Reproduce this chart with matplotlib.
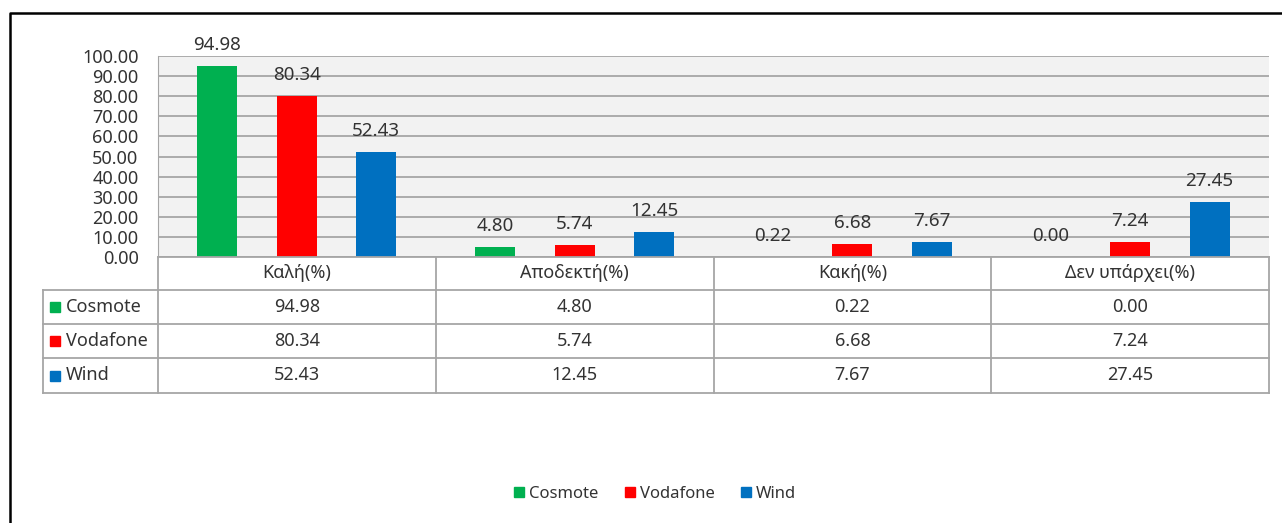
import matplotlib.pyplot as plt
from matplotlib.lines import Line2D
from matplotlib.patches import Patch, Rectangle

plt.rcParams['font.family'] = ['Noto Sans', 'DejaVu Sans']

# data
categories = ["Καλή(%)", "Αποδεκτή(%)", "Κακή(%)", "Δεν υπάρχει(%)"]
series = ["Cosmote", "Vodafone", "Wind"]
cosmote = [94.98, 4.80, 0.22, 0.00]
vodafone = [80.34, 5.74, 6.68, 7.24]
wind = [52.43, 12.45, 7.67, 27.45]
colors = ["#00B050", "#FF0000", "#0070C0"]
yticks = [0, 10, 20, 30, 40, 50, 60, 70, 80, 90, 100]

values = [cosmote, vodafone, wind]
txt = "#333333"
grid = "#a6a6a6"

W, H = 1282, 523
fig = plt.figure(figsize=(W / 100, H / 100), dpi=100)

# plot area in pixels
px_l, px_r, px_t, px_b = 158, 1269, 56, 257
ax = fig.add_axes([px_l / W, 1 - px_b / H, (px_r - px_l) / W, (px_b - px_t) / H])
ax.set_facecolor("#f2f2f2")
ax.set_xlim(-0.5, 3.5)
ax.set_ylim(0, 100)
ax.set_yticks(yticks)
ax.set_yticklabels(["%.2f" % v for v in yticks], fontsize=13, color=txt)
ax.tick_params(axis="y", length=0, pad=14)
ax.set_xticks([])
ax.grid(axis="y", color=grid, linewidth=1.3)
ax.set_axisbelow(True)
for s in ["top", "right", "bottom"]:
    ax.spines[s].set_visible(False)
ax.spines["left"].set_color(grid)

off = 0.286
bw = 0.144
for j, (name, vals) in enumerate(zip(series, values)):
    xs = [i + (j - 1) * off for i in range(len(categories))]
    ax.bar(xs, vals, width=bw, color=colors[j], zorder=3)
    for x, v in zip(xs, vals):
        ax.annotate("%.2f" % v, (x, v), xytext=(0, 11.5), textcoords="offset points",
                    ha="center", va="baseline", fontsize=13.5, color=txt,
                    annotation_clip=False, zorder=4)

# overlay in pixel coords for the data table and frame
ov = fig.add_axes([0, 0, 1, 1], facecolor="none")
ov.set_xlim(0, W)
ov.set_ylim(H, 0)
ov.axis("off")

cw = (px_r - px_l) / len(categories)
col_x = [px_l + k * cw for k in range(len(categories) + 1)]
rows_y = [257, 290, 324, 358, 393]
lab_l = 43

# horizontal lines
ov.plot([px_l, px_r], [rows_y[0], rows_y[0]], color=grid, lw=1.3)
for y in rows_y[1:]:
    ov.plot([lab_l, px_r], [y, y], color=grid, lw=1.3)
# vertical lines
ov.plot([lab_l, lab_l], [rows_y[1], rows_y[-1]], color=grid, lw=1.3)
for x in col_x:
    ov.plot([x, x], [rows_y[0], rows_y[-1]], color=grid, lw=1.3)

for k, c in enumerate(categories):
    ov.text((col_x[k] + col_x[k + 1]) / 2, (rows_y[0] + rows_y[1]) / 2, c,
            ha="center", va="center", fontsize=13, color=txt)
for j, (name, vals) in enumerate(zip(series, values)):
    yc = (rows_y[j + 1] + rows_y[j + 2]) / 2
    ov.add_patch(Rectangle((50, yc - 5), 10, 10, color=colors[j]))
    ov.text(66, yc, name, ha="left", va="center", fontsize=13, color=txt)
    for k, v in enumerate(vals):
        ov.text((col_x[k] + col_x[k + 1]) / 2, yc, "%.2f" % v,
                ha="center", va="center", fontsize=13, color=txt)

# outer frame (left and top edges)
ov.add_line(Line2D([10, 10, W], [H, 13, 13], color="black", lw=1.8))

handles = [Patch(color=c, label=n) for c, n in zip(colors, series)]
fig.legend(handles=handles, loc="center", bbox_to_anchor=(655 / W, 1 - 494 / H),
           ncol=3, frameon=False, fontsize=12, handlelength=0.6, handleheight=0.6,
           handletextpad=0.3, columnspacing=1.6, labelcolor=txt)

fig.savefig("out.png", dpi=100)
